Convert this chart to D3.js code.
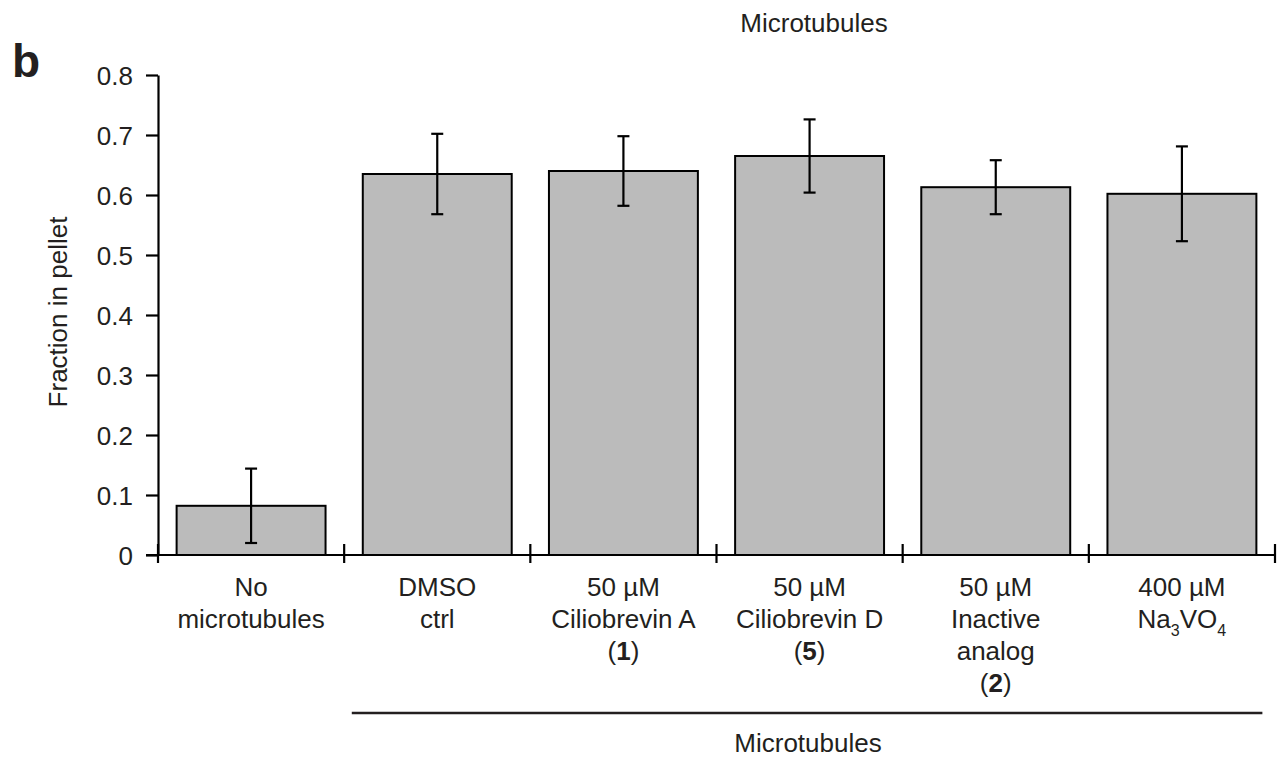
<!DOCTYPE html>
<html>
<head>
<meta charset="utf-8">
<script src="https://cdn.jsdelivr.net/npm/d3@7"></script>
<style>
  html, body { margin: 0; padding: 0; background: #fff; }
  svg text { font-family: "Liberation Sans", Arial, sans-serif; fill: #231f20; }
</style>
</head>
<body>
<svg id="chart" width="1283" height="761"></svg>
<script>
// ---- data ----
const categories = ["No microtubules", "DMSO ctrl", "50 µM Ciliobrevin A (1)", "50 µM Ciliobrevin D (5)", "50 µM Inactive analog (2)", "400 µM Na3VO4"];
const labelLines = [
  ["No", "microtubules"],
  ["DMSO", "ctrl"],
  ["50 µM", "Ciliobrevin A", "(**1**)"],
  ["50 µM", "Ciliobrevin D", "(**5**)"],
  ["50 µM", "Inactive", "analog", "(**2**)"],
  ["400 µM", "Na_3VO_4"]
];
const means = [0.082, 0.635, 0.640, 0.665, 0.613, 0.602];
const errors = [0.062, 0.067, 0.058, 0.061, 0.045, 0.079];
const yTicks = [0, 0.1, 0.2, 0.3, 0.4, 0.5, 0.6, 0.7, 0.8];
const groupLabel = "Microtubules";
const yLabel = "Fraction in pellet";
const panelLetter = "b";

// ---- layout ----
(function () {
const svg = d3.select("#chart");
const mLeft = 158, mRight = 1275, mTop = 75, mBottom = 555;
const fs = 26;

const x = d3.scaleBand().domain(categories).range([mLeft, mRight]).paddingInner(0.2).paddingOuter(0.1);
const y = d3.scaleLinear().domain([0, 0.8]).range([mBottom, mTop]);

// panel letter
svg.append("text").attr("x", 12).attr("y", 77).attr("font-size", 46).attr("font-weight", "bold").text(panelLetter);

// top label
svg.append("text").attr("x", 814).attr("y", 32).attr("text-anchor", "middle").attr("font-size", fs).text(groupLabel);

// y axis label
svg.append("text")
  .attr("transform", `translate(67,312) rotate(-90)`)
  .attr("text-anchor", "middle").attr("font-size", fs).text(yLabel);

// bars
svg.append("g").selectAll("rect").data(categories).join("rect")
  .attr("x", d => x(d)).attr("width", x.bandwidth())
  .attr("y", (d, i) => y(means[i])).attr("height", (d, i) => y(0) - y(means[i]))
  .attr("fill", "#bbbbbb").attr("stroke", "#000").attr("stroke-width", 2);

// error bars
const eg = svg.append("g").attr("stroke", "#000").attr("stroke-width", 2.2);
categories.forEach((c, i) => {
  const cx = x(c) + x.bandwidth() / 2;
  const y1 = y(means[i] + errors[i]), y2 = y(means[i] - errors[i]);
  eg.append("line").attr("x1", cx).attr("x2", cx).attr("y1", y1).attr("y2", y2);
  eg.append("line").attr("x1", cx - 6).attr("x2", cx + 6).attr("y1", y1).attr("y2", y1);
  eg.append("line").attr("x1", cx - 6).attr("x2", cx + 6).attr("y1", y2).attr("y2", y2);
});

// y axis
const yAxis = d3.axisLeft(y).tickValues(yTicks).tickSize(12).tickSizeOuter(0).tickPadding(13)
  .tickFormat(d => d === 0 ? "0" : d3.format(".1f")(d));
const yg = svg.append("g").attr("transform", `translate(${mLeft},0)`).call(yAxis);
yg.selectAll("path, line").attr("stroke", "#000").attr("stroke-width", 2.2);
yg.selectAll("text").attr("font-size", fs).attr("font-family", "Liberation Sans, Arial, sans-serif").attr("fill", "#231f20").attr("dy", "0.35em");

// x axis
const xg = svg.append("g");
xg.append("line").attr("x1", mLeft - 12).attr("x2", mRight).attr("y1", y(0)).attr("y2", y(0))
  .attr("stroke", "#000").attr("stroke-width", 2.2);
const step = x.step();
const bounds = categories.map(c => x(c) - step * x.paddingInner() / 2).concat([x(categories[categories.length - 1]) + x.bandwidth() + step * x.paddingInner() / 2]);
bounds[0] = mLeft; bounds[bounds.length - 1] = mRight;
xg.selectAll("line.tick").data(bounds).join("line").attr("class", "tick")
  .attr("x1", d => d).attr("x2", d => d).attr("y1", y(0) - 11).attr("y2", y(0) + 8)
  .attr("stroke", "#000").attr("stroke-width", 2.2);

// category labels
function addRich(textSel, str) {
  const re = /(\*\*[^*]+\*\*|_[0-9]+)/g;
  let last = 0, m, pend = 0;
  const plain = s => { const t = textSel.append("tspan").text(s); if (pend) { t.attr("dy", pend); pend = 0; } };
  while ((m = re.exec(str)) !== null) {
    if (m.index > last) plain(str.slice(last, m.index));
    const tok = m[0];
    if (tok.startsWith("**")) {
      const t = textSel.append("tspan").attr("font-weight", "bold").text(tok.slice(2, -2));
      if (pend) { t.attr("dy", pend); pend = 0; }
    } else {
      textSel.append("tspan").attr("font-size", 16).attr("dy", 8 + pend).text(tok.slice(1));
      pend = -8;
    }
    last = m.index + tok.length;
  }
  if (last < str.length) plain(str.slice(last));
}
categories.forEach((c, i) => {
  const cx = x(c) + x.bandwidth() / 2;
  labelLines[i].forEach((ln, j) => {
    const t = svg.append("text").attr("x", cx).attr("y", 596 + j * 32).attr("text-anchor", "middle").attr("font-size", fs);
    addRich(t, ln);
  });
});

// group bracket line and label
const gx1 = x(categories[1]) - 11, gx2 = x(categories[5]) + x.bandwidth() + 6;
svg.append("line").attr("x1", gx1).attr("x2", gx2).attr("y1", 713).attr("y2", 713)
  .attr("stroke", "#231f20").attr("stroke-width", 2.5);
svg.append("text").attr("x", 808).attr("y", 752).attr("text-anchor", "middle").attr("font-size", fs).text(groupLabel);
})();
</script>
</body>
</html>
